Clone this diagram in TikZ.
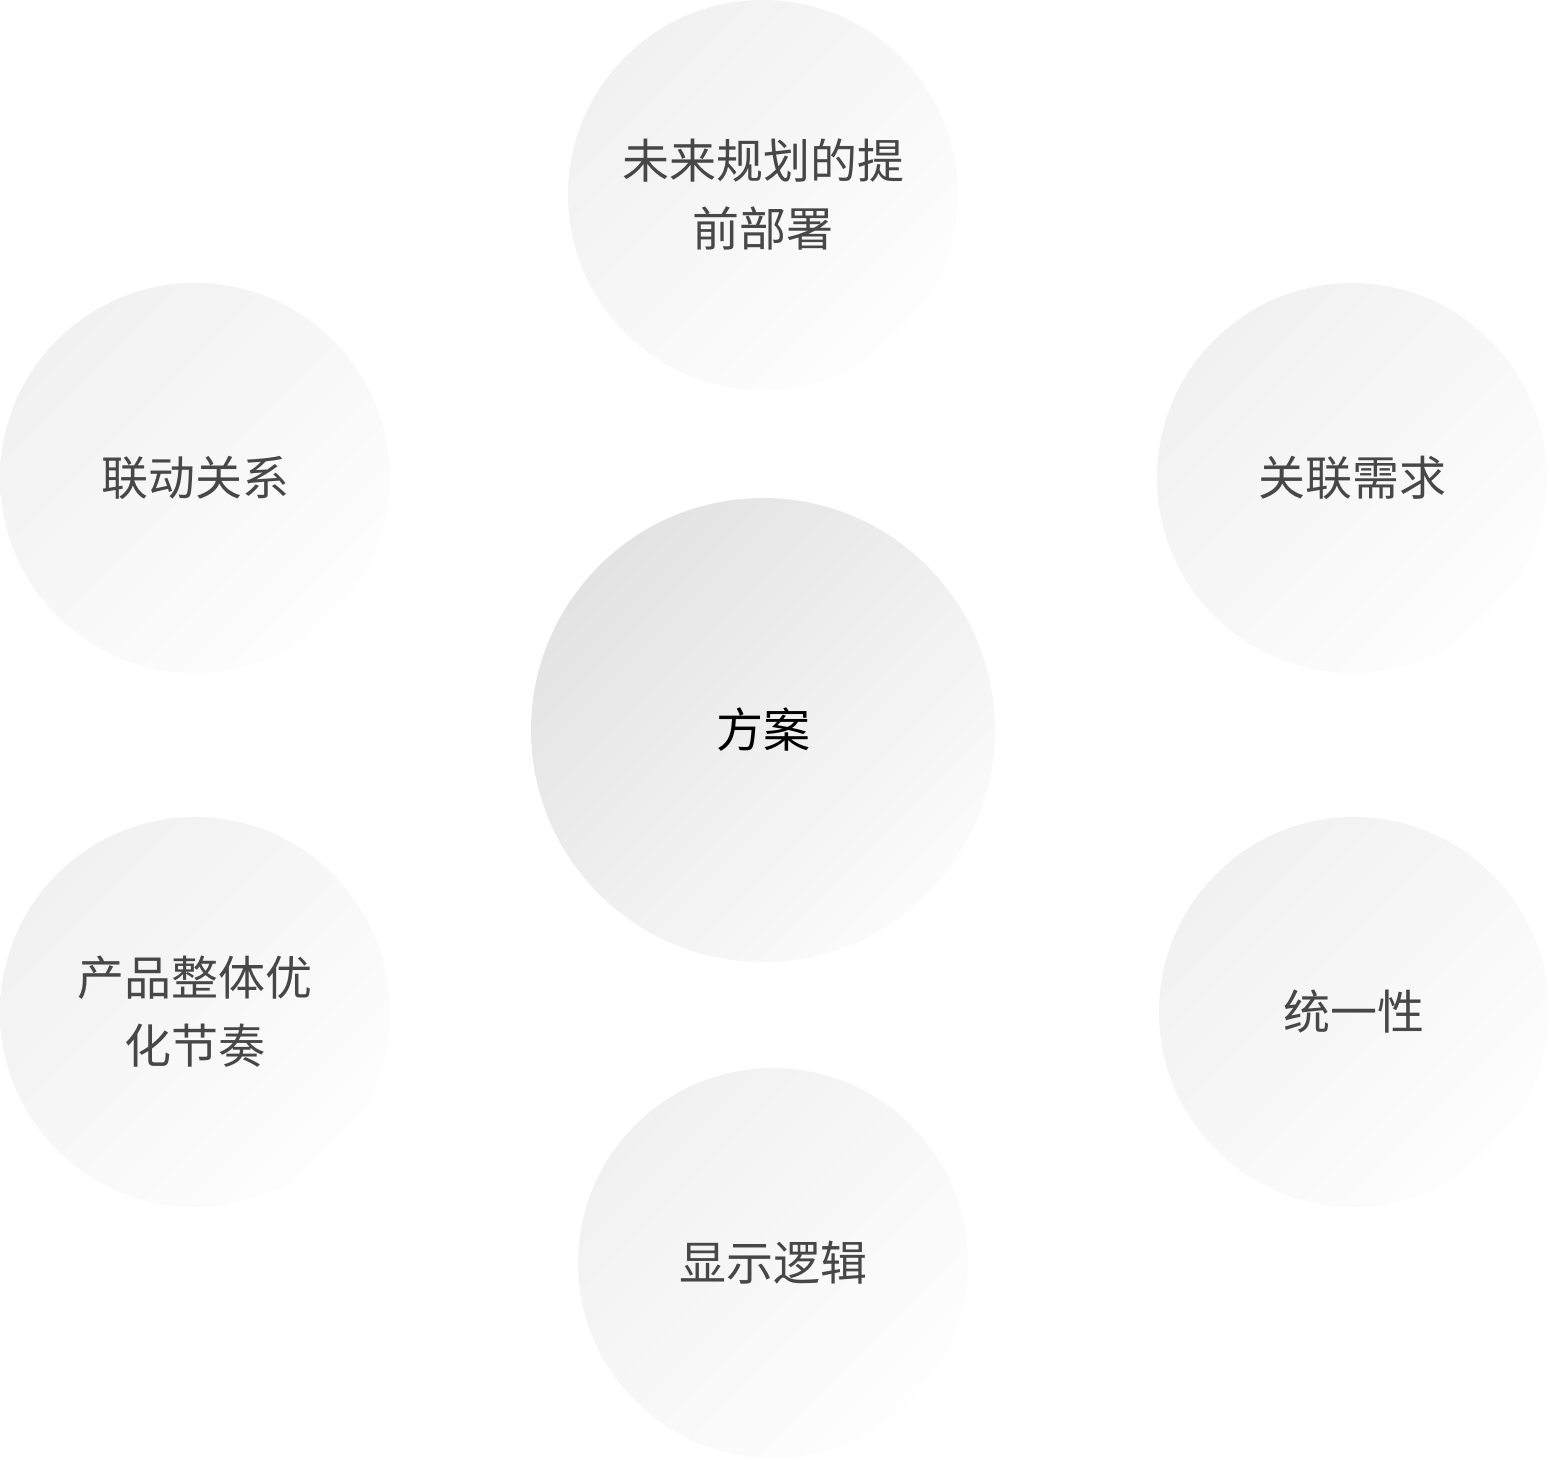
\documentclass[tikz,border=0pt]{standalone}
\usepackage{fontspec}
\newfontfamily\cjk{Noto Sans CJK SC}
\begin{document}
\begin{tikzpicture}[x=1pt,y=-1pt,
  bub/.style={circle,minimum size=390pt,inner sep=0pt,align=center,text=black!72,
    font=\cjk\fontsize{47}{68}\selectfont,
    shading=axis,top color=black!5.5,bottom color=black!0.5,shading angle=45},
  hub/.style={bub,minimum size=464pt,text=black,top color=black!11,bottom color=black!1.5,shading angle=45}]
\useasboundingbox (0,0) rectangle (1550,1460);
\node[bub] (a) at (763,195) {未来规划的提\\前部署};
\node[bub] (b) at (195,478) {联动关系};
\node[bub] (c) at (1352,478) {关联需求};
\node[hub] (m) at (763,730) {方案};
\node[bub] (d) at (195,1012) {产品整体优\\化节奏};
\node[bub] (e) at (1354,1012) {统一性};
\node[bub] (f) at (773,1263) {显示逻辑};
\end{tikzpicture}
\end{document}
